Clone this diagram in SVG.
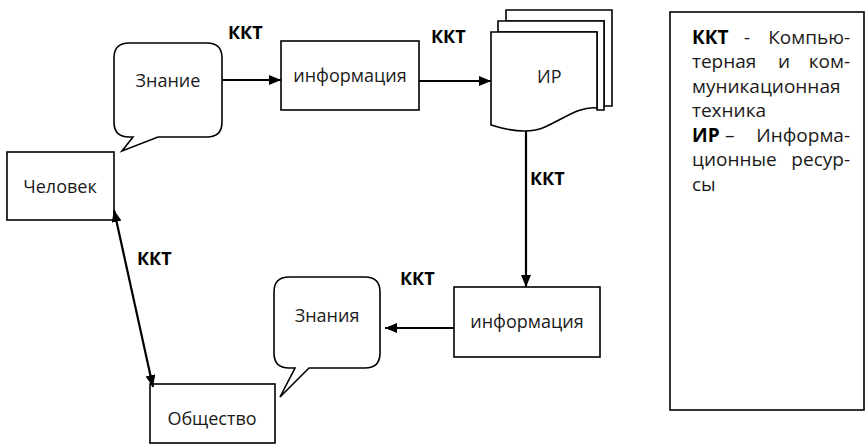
<svg xmlns="http://www.w3.org/2000/svg" width="868" height="445" viewBox="0 0 868 445">
<style>
.shape{fill:#fff;stroke:#000;stroke-width:1.6}
.t{font-family:"Open Sans","Noto Sans","DejaVu Sans",sans-serif;font-size:18px;fill:#1a1a1a}
.lg{font-size:19px}
.b{font-weight:bold;fill:#000}
.c{text-anchor:middle}
.e{text-anchor:end}
.ln{fill:none;stroke:#000;stroke-width:2.2}
</style>
<defs>
<marker id="ah" viewBox="0 0 12 10" refX="12" refY="5" markerWidth="12" markerHeight="10" markerUnits="userSpaceOnUse" orient="auto-start-reverse">
<path d="M0,0 L12,5 L0,10 Z" fill="#000"/>
</marker>
</defs>
<rect x="0" y="0" width="868" height="445" fill="#fff"/>
<g id="znanie">
<path class="shape" d="M129,43 H207 Q222,43 222,58 V122 Q222,137 207,137 H158 L122,151 L133,137 H129 Q114,137 114,122 V58 Q114,43 129,43 Z"/>
<text class="t c" x="168" y="87">Знание</text>
</g>
<g id="info1">
<rect class="shape" x="281" y="41" width="138" height="69"/>
<text class="t c" x="350" y="82">информация</text>
</g>
<g id="ir">
<path class="shape" d="M506,10 H612 V106 H604 V21 H506 Z"/>
<path class="shape" d="M498,21 H604 V110 H597 V32 H498 Z"/>
<path class="shape" d="M491,32 H597 V108 C580,106 565,118 545,127 C530,134 510,131 491,125 Z"/>
<text class="t" x="537" y="83">ИР</text>
</g>
<g id="chelovek">
<rect class="shape" x="7" y="152" width="107" height="68"/>
<text class="t c" x="60" y="193">Человек</text>
</g>
<g id="info2">
<rect class="shape" x="454" y="287" width="146" height="70"/>
<text class="t c" x="527" y="328">информация</text>
</g>
<g id="znaniya">
<path class="shape" d="M289,277 H365 Q380,277 380,292 V353 Q380,368 365,368 H309 L280,397 L295,368 H289 Q274,368 274,353 V292 Q274,277 289,277 Z"/>
<text class="t c" x="327" y="322">Знания</text>
</g>
<g id="obshchestvo">
<rect class="shape" x="150" y="384" width="125" height="59"/>
<text class="t c" x="212" y="425">Общество</text>
</g>
<g id="legend">
<rect class="shape" x="670" y="12" width="194" height="398"/>
<text class="t lg"><tspan class="b" x="692" y="43.5">ККТ</tspan><tspan x="744" y="43.5">-</tspan><tspan class="e" x="850" y="43.5">Компью-</tspan></text>
<text class="t lg"><tspan x="692" y="68">терная</tspan><tspan x="778" y="68">и</tspan><tspan class="e" x="850" y="68">ком-</tspan></text>
<text class="t lg" x="692" y="92.5">муникационная</text>
<text class="t lg" x="692" y="117">техника</text>
<text class="t lg"><tspan class="b" x="692" y="141.5">ИР</tspan><tspan x="725" y="141.5">–</tspan><tspan class="e" x="850" y="141.5">Информа-</tspan></text>
<text class="t lg"><tspan x="692" y="166">ционные</tspan><tspan class="e" x="850" y="166">ресур-</tspan></text>
<text class="t lg" x="692" y="190.5">сы</text>
</g>
<g id="connectors">
<line class="ln" x1="222" y1="80" x2="281" y2="80" marker-end="url(#ah)"/>
<line class="ln" x1="419" y1="81" x2="491" y2="81" marker-end="url(#ah)"/>
<line class="ln" x1="526" y1="131" x2="526" y2="287" marker-end="url(#ah)"/>
<line class="ln" x1="454" y1="328" x2="385" y2="328" marker-end="url(#ah)"/>
<line class="ln" x1="114" y1="210" x2="153" y2="387" marker-start="url(#ah)" marker-end="url(#ah)"/>
<text class="t b" x="228" y="39">ККТ</text>
<text class="t b" x="431" y="43">ККТ</text>
<text class="t b" x="530" y="185">ККТ</text>
<text class="t b" x="400" y="285">ККТ</text>
<text class="t b" x="137" y="265">ККТ</text>
</g>
</svg>
